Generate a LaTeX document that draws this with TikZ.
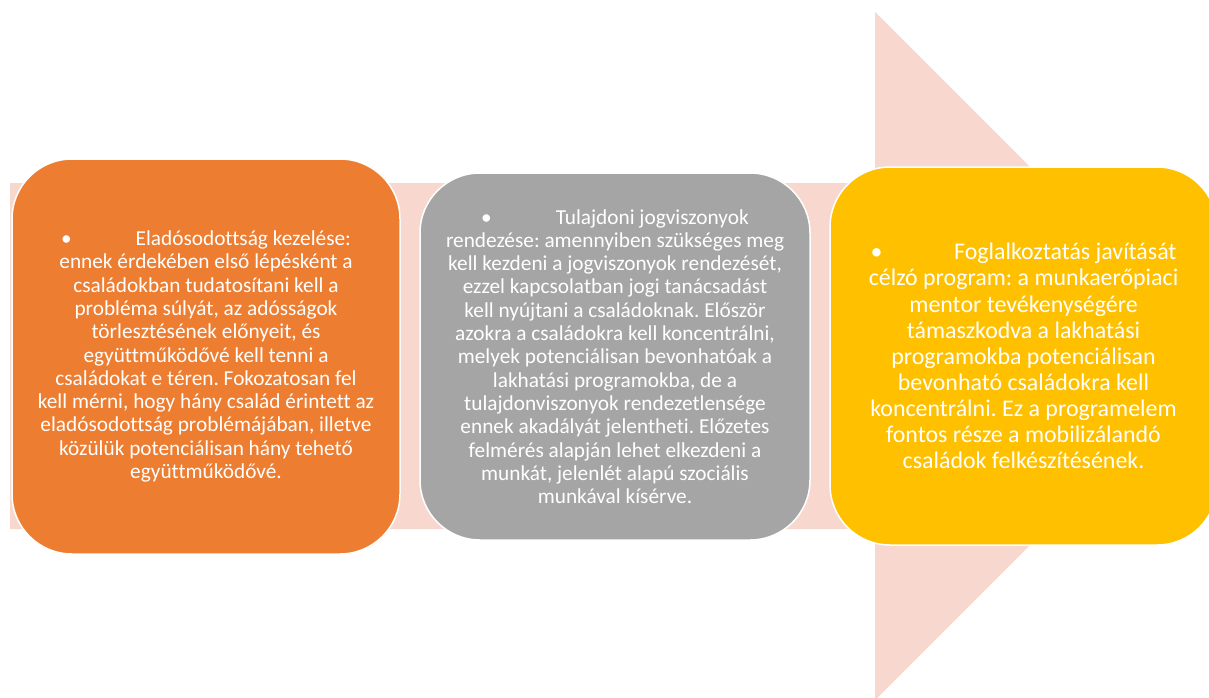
\documentclass[tikz,border=0pt]{standalone}
\usepackage{fontspec}
\setmainfont{Carlito}[Ligatures=CommonOff]
\frenchspacing
\definecolor{shaft}{HTML}{F8D8CE}
\definecolor{orng}{HTML}{ED7D31}
\definecolor{grey}{HTML}{A5A5A5}
\definecolor{gold}{HTML}{FFC000}
\newcommand{\pont}{\makebox[3.5em][l]{\textbullet}}

\begin{document}
\begin{tikzpicture}[x=1pt,y=-1pt,
    card/.style={draw=white,line width=1.5pt,rounded corners=60pt,
      text=white,align=center,inner sep=0pt,
      font=\fontsize{21.3}{23.3}\selectfont}]
  \useasboundingbox (0,0) rectangle (1209,697);
  \clip (0,0) rectangle (1209,697);
  % background arrow
  \fill[shaft] (10,183) -- (875,183) -- (875,12) -- (1219,356)
    -- (875,700) -- (875,529) -- (10,529) -- cycle;
  % the three steps
  \node[card,fill=orng,minimum width=388pt,minimum height=395pt]
    (adossag) at (206,356.5)
    {\pont Eladósodottság kezelése:\\
     ennek érdekében első lépésként a\\
     családokban tudatosítani kell a\\
     probléma súlyát, az adósságok\\
     törlesztésének előnyeit, és\\
     együttműködővé kell tenni a\\
     családokat e téren. Fokozatosan fel\\
     kell mérni, hogy hány család érintett az\\
     eladósodottság problémájában, illetve\\
     közülük potenciálisan hány tehető\\
     együttműködővé.};
  \node[card,fill=grey,minimum width=390pt,minimum height=367pt]
    (tulajdon) at (615,356.5)
    {\pont Tulajdoni jogviszonyok\\
     rendezése: amennyiben szükséges meg\\
     kell kezdeni a jogviszonyok rendezését,\\
     ezzel kapcsolatban jogi tanácsadást\\
     kell nyújtani a családoknak. Először\\
     azokra a családokra kell koncentrálni,\\
     melyek potenciálisan bevonhatóak a\\
     lakhatási programokba, de a\\
     tulajdonviszonyok rendezetlensége\\
     ennek akadályát jelentheti. Előzetes\\
     felmérés alapján lehet elkezdeni a\\
     munkát, jelenlét alapú szociális\\
     munkával kísérve.};
  \node[card,fill=gold,minimum width=387pt,minimum height=378pt,
    font=\fontsize{23.9}{26.1}\selectfont]
    (munka) at (1023.5,356)
    {\pont Foglalkoztatás javítását\\
     célzó program: a munkaerőpiaci\\
     mentor tevékenységére\\
     támaszkodva a lakhatási\\
     programokba potenciálisan\\
     bevonható családokra kell\\
     koncentrálni. Ez a programelem\\
     fontos része a mobilizálandó\\
     családok felkészítésének.};
\end{tikzpicture}
\end{document}
